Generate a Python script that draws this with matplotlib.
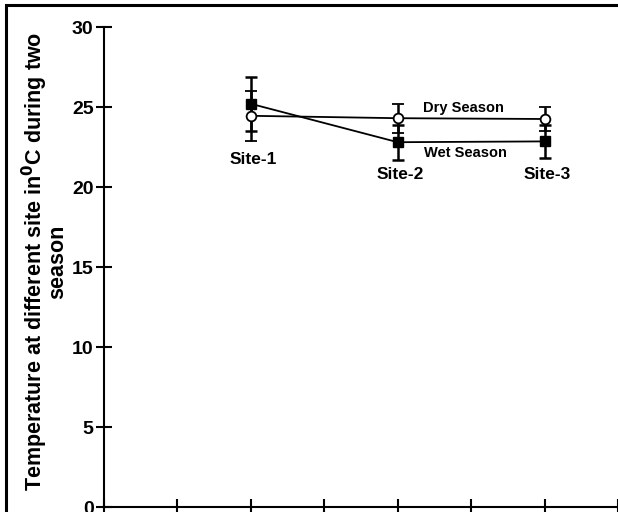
import matplotlib.pyplot as plt
from matplotlib.patches import Rectangle

plt.rcParams['font.family'] = ['Liberation Sans', 'DejaVu Sans']
plt.rcParams['font.weight'] = 'bold'

# Data
sites = ["Site-1", "Site-2", "Site-3"]
site_x = [2, 4, 6]
dry_mean = [24.45, 24.3, 24.25]
dry_err = [1.55, 0.9, 0.75]
wet_mean = [25.2, 22.8, 22.85]
wet_err = [1.7, 1.1, 1.05]
yticks = [0, 5, 10, 15, 20, 25, 30]
xticks = [0, 1, 2, 3, 4, 5, 6, 7]

fig = plt.figure(figsize=(6.18, 5.12), dpi=100)
ax = fig.add_axes([104 / 618, 5 / 512, (618 - 104) / 618, (507 - 27) / 512])

# Dry season: open circles
ax.errorbar(site_x, dry_mean, yerr=dry_err, color='black', lw=1.3, elinewidth=1.8,
            capsize=4.3, capthick=1.8, marker='o', markersize=7,
            markerfacecolor='white', markeredgecolor='black', markeredgewidth=1.3,
            zorder=3)
# Wet season: filled squares
ax.errorbar(site_x, wet_mean, yerr=wet_err, color='black', lw=1.3, elinewidth=1.8,
            capsize=4.3, capthick=1.8, marker='s', markersize=7,
            markerfacecolor='black', markeredgecolor='black', zorder=3)

# Labels on the plot
ax.text(4.9, 24.96, "Dry Season", ha='center', va='center', fontsize=10.5, fontweight='bold')
ax.text(4.92, 22.14, "Wet Season", ha='center', va='center', fontsize=10.5, fontweight='bold')
label_y = [21.7, 20.8, 20.8]
for xs, ys, name in zip(site_x, label_y, sites):
    ax.text(xs + 0.03, ys, name, ha='center', va='center', fontsize=12.5, fontweight='bold')

# Axes
ax.set_xlim(0, 514 / 74)
ax.set_ylim(0, 30)
ax.set_yticks(yticks)
ax.set_xticks(xticks)
ax.set_xticklabels([])
ax.tick_params(axis='both', direction='inout', length=11, width=1.5, labelsize=14, pad=2)
for lab in ax.get_yticklabels():
    lab.set_fontweight('bold')
ax.spines['top'].set_visible(False)
ax.spines['right'].set_visible(False)
ax.spines['left'].set_linewidth(1.5)
ax.spines['bottom'].set_linewidth(1.5)

fig.text(0.071, 0.489, "Temperature at different site in$^{\\mathbf{0}}$C during two\nseason",
         rotation=90, ha='center', va='center', fontsize=15.5, fontweight='bold',
         multialignment='center', linespacing=0.78)

# Frame around the figure (cut off at right and bottom)
fig.patches.append(Rectangle((6 / 618, -0.2), 1.2, 1.2 - 5 / 512, transform=fig.transFigure,
                             fill=False, edgecolor='black', linewidth=2.2))

fig.savefig("out.png", dpi=100)
